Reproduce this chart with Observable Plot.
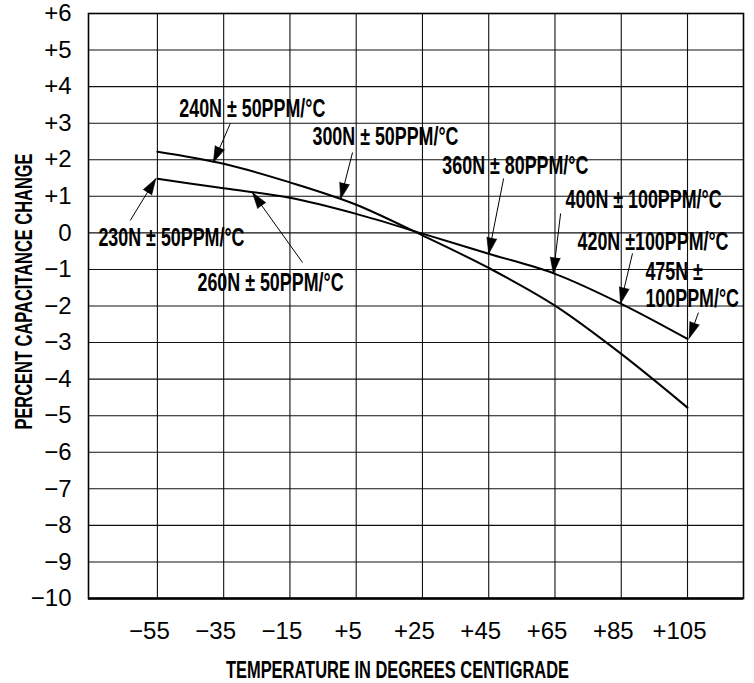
<!DOCTYPE html>
<html>
<head>
<meta charset="utf-8">
<script src="https://cdn.jsdelivr.net/npm/d3@7"></script>
<script src="https://cdn.jsdelivr.net/npm/@observablehq/plot@0.6"></script>
<style>
  body { margin: 0; background: #fff; }
</style>
</head>
<body>
<div id="chart"></div>
<script>
// ---- data ----
const temps = [-55, -35, -15, 5, 25, 45, 65, 85, 105];
const steepCurve = [2.22, 1.89, 1.38, 0.77, -0.07, -0.96, -1.99, -3.31, -4.78];
const shallowCurve = [1.48, 1.22, 0.96, 0.52, -0.02, -0.57, -1.12, -1.94, -2.9];

const xTicks = [-55, -35, -15, 5, 25, 45, 65, 85, 105];
const xTickLabels = ["−55", "−35", "−15", "+5", "+25", "+45", "+65", "+85", "+105"];
const yTicks = [-10, -9, -8, -7, -6, -5, -4, -3, -2, -1, 0, 1, 2, 3, 4, 5, 6];
const yTickLabels = ["−10", "−9", "−8", "−7", "−6", "−5", "−4", "−3", "−2", "−1", "0", "+1", "+2", "+3", "+4", "+5", "+6"];

const xTitle = "TEMPERATURE IN DEGREES CENTIGRADE";
const yTitle = "PERCENT CAPACITANCE CHANGE";

// annotation labels (data units)
const labelTexts = ["240N ± 50PPM/°C", "300N ± 50PPM/°C", "360N ± 80PPM/°C", "400N ± 100PPM/°C",
  "420N ±100PPM/°C", "475N ±", "100PPM/°C", "230N ± 50PPM/°C", "260N ± 50PPM/°C"];
const labelX = [-48.4, -8.2, 31.0, 68.2, 71.8, 92.3, 92.3, -72.8, -42.9];
const labelY = [3.40, 2.61, 1.84, 0.89, -0.26, -1.08, -1.80, -0.15, -1.38];

// leader arrows (data units): from label to curve
const arrowX1 = [-33.0, 3.9, 49.5, 66.7, 88.4, 108.3, -63.2, -11.2];
const arrowY1 = [2.99, 2.20, 1.49, 0.53, -0.56, -2.18, 0.34, -0.81];
const arrowX2 = [-38.1, 0.3, 45.0, 64.5, 84.8, 105.5, -55.5, -26.3];
const arrowY2 = [1.93, 0.93, -0.57, -1.11, -1.93, -2.88, 1.48, 1.10];

// ---- layout ----
const W = 754, H = 683, mL = 88, mR = 11, mT = 13, mB = 85;
const xDomain = [-75.8, 121.9], yDomain = [-10, 6];
const sx = d3.scaleLinear(xDomain, [mL, W - mR]);
const sy = d3.scaleLinear(yDomain, [H - mB, mT]);

const series = [
  ...temps.map((t, i) => ({t, v: steepCurve[i], s: "steep"})),
  ...temps.map((t, i) => ({t, v: shallowCurve[i], s: "shallow"}))
];
const ann = labelTexts.map((text, i) => ({text, x: labelX[i], y: labelY[i]}));
const arrows = arrowX1.map((x1, i) => {
  const x2 = arrowX2[i], y1 = arrowY1[i], y2 = arrowY2[i];
  const dx = sx(x2) - sx(x1), dy = sy(y2) - sy(y1);
  return {x1, y1, x2, y2, angle: Math.atan2(dx, -dy) * 180 / Math.PI};
});

const font = '"Liberation Sans", Arial, Helvetica, sans-serif';

const plot = Plot.plot({
  width: W, height: H,
  marginLeft: mL, marginRight: mR, marginTop: mT, marginBottom: mB,
  x: {domain: xDomain},
  y: {domain: yDomain},
  style: {fontFamily: font, fontSize: "24px", color: "#000", background: "#fff"},
  marks: [
    Plot.ruleX(xTicks, {stroke: "#111", strokeWidth: 1.1}),
    Plot.ruleY(yTicks, {stroke: "#111", strokeWidth: 1.1}),
    Plot.frame({stroke: "#000", strokeWidth: 1.6}),
    Plot.ruleY([-10], {stroke: "#000", strokeWidth: 2.6}),
    Plot.axisX({ticks: xTicks, tickSize: 0, tickPadding: 23, dx: -8, label: null,
      fontSize: 24, tickFormat: d => xTickLabels[xTicks.indexOf(d)]}),
    Plot.axisY({ticks: yTicks, tickSize: 0, tickPadding: 17, label: null,
      fontSize: 24, tickFormat: d => yTickLabels[yTicks.indexOf(d)]}),
    Plot.line(series, {x: "t", y: "v", z: "s", stroke: "#000", strokeWidth: 2, curve: "monotone-x"}),
    Plot.link(arrows, {x1: "x1", y1: "y1", x2: "x2", y2: "y2", stroke: "#000", strokeWidth: 1}),
    Plot.vector(arrows, {x: "x2", y: "y2", rotate: "angle", length: 16, r: 5, shape: "spike",
      anchor: "end", fill: "#000", stroke: "#000", strokeWidth: 0.6}),
    Plot.text(ann, {x: "x", y: "y", text: "text", textAnchor: "start", lineAnchor: "middle",
      fontWeight: "bold", fontSize: 25, fill: "#000"}),
    Plot.text([xTitle], {text: d => d, frameAnchor: "bottom", textAnchor: "middle", lineAnchor: "middle",
      dy: 72, dx: -18.5, fontWeight: "bold", fontSize: 23, fill: "#000"}),
    Plot.text([yTitle], {text: d => d, frameAnchor: "left", textAnchor: "middle", lineAnchor: "middle",
      rotate: -90, dx: -64, dy: -14.5, fontWeight: "bold", fontSize: 23, fill: "#000"})
  ]
});

// condensed look for the bold labels
plot.querySelectorAll('g[font-weight="bold"] text').forEach(t => {
  t.setAttribute("transform", (t.getAttribute("transform") || "") + " scale(0.715,1)");
});

document.getElementById("chart").appendChild(plot);
</script>
</body>
</html>
